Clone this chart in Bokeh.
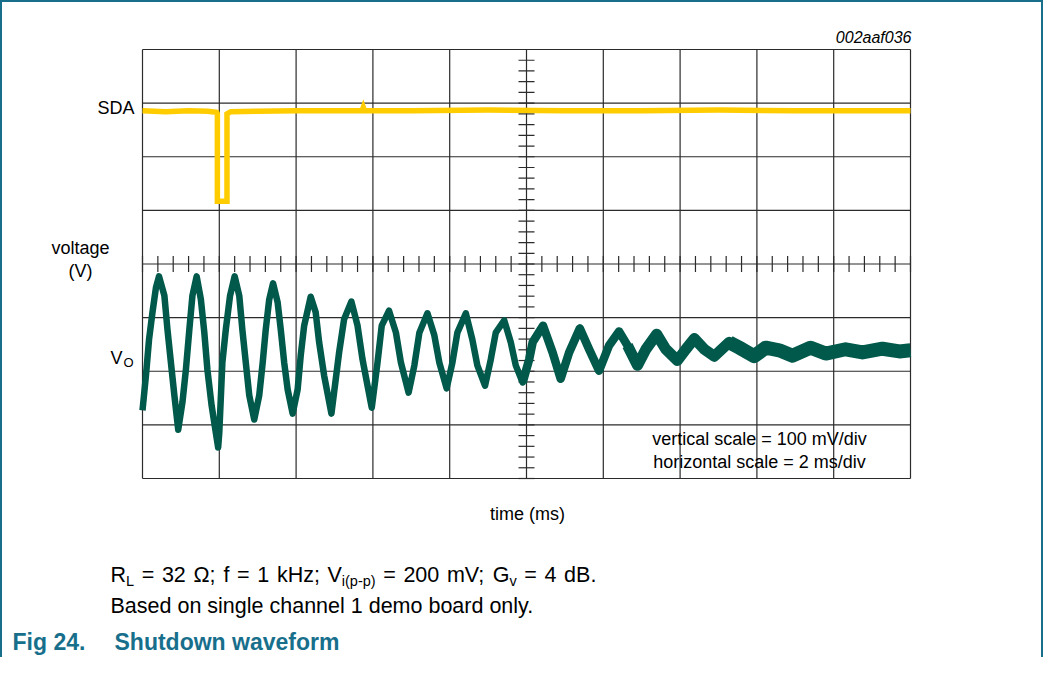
import numpy as np
from bokeh.plotting import figure
from bokeh.models import Label, Range1d
from bokeh.embed import file_html
from bokeh.resources import INLINE

# ---------------- data ----------------
# time in ms (2 ms/div), value in screen divisions (0 = centre line)
vo_t = [0.00, 0.09, 0.17, 0.26, 0.35, 0.43, 0.57, 0.65, 0.74, 0.83, 0.93, 1.04, 1.13, 1.22, 1.30,
        1.41, 1.52, 1.61, 1.69, 1.80, 1.93, 1.97, 2.00, 2.08, 2.17, 2.28, 2.40, 2.52, 2.60, 2.69,
        2.78, 2.91, 3.04, 3.13, 3.21, 3.30, 3.40, 3.52, 3.60, 3.69, 3.78, 3.91, 4.04, 4.12, 4.21,
        4.38, 4.51, 4.60, 4.73, 4.92, 5.12, 5.25, 5.44, 5.60, 5.73, 5.86, 5.97, 6.12, 6.23, 6.42,
        6.60, 6.73, 6.93, 7.08, 7.21, 7.42, 7.60, 7.73, 7.92, 8.07, 8.20, 8.42, 8.59, 8.72, 8.92,
        9.07, 9.20, 9.42, 9.59, 9.72, 9.90, 10.07, 10.16, 10.43, 10.68, 10.89, 11.11, 11.39, 11.63,
        11.89, 12.15, 12.41, 12.63, 12.89, 13.11, 13.39, 13.63, 13.93, 14.15, 14.37, 14.63, 14.89,
        15.28, 15.54, 15.93, 16.23, 16.58, 16.93, 17.40, 17.79, 18.31, 18.75, 19.27, 19.71, 20.00]
vo_v = [-2.73, -2.08, -1.41, -0.90, -0.44, -0.23, -0.59, -1.22, -1.84, -2.45, -3.09, -2.58, -1.97,
        -1.22, -0.59, -0.23, -0.66, -1.28, -1.97, -2.64, -3.24, -3.42, -3.14, -1.84, -1.22, -0.59,
        -0.23, -0.59, -1.22, -1.84, -2.45, -2.90, -2.45, -1.84, -1.22, -0.66, -0.36, -0.72, -1.22,
        -1.84, -2.34, -2.79, -2.34, -1.71, -1.15, -0.61, -0.90, -1.46, -2.08, -2.79, -1.65, -1.03,
        -0.70, -1.15, -1.78, -2.27, -2.68, -1.84, -1.15, -0.87, -1.28, -1.84, -2.40, -1.89, -1.28,
        -0.92, -1.33, -1.84, -2.32, -1.84, -1.28, -0.92, -1.41, -1.89, -2.27, -1.78, -1.28, -1.05,
        -1.46, -1.89, -2.21, -1.78, -1.46, -1.15, -1.65, -2.14, -1.65, -1.20, -1.59, -1.99, -1.52,
        -1.26, -1.52, -1.89, -1.59, -1.31, -1.59, -1.80, -1.59, -1.39, -1.59, -1.72, -1.46, -1.56,
        -1.72, -1.56, -1.61, -1.71, -1.56, -1.67, -1.59, -1.65, -1.58, -1.63, -1.61]

sda_t = [0.0, 0.6, 1.2, 1.7, 1.93, 1.95, 1.95, 2.20, 2.20, 2.30, 3.0, 4.0, 5.72, 5.75, 5.78,
         7.0, 9.0, 11.0, 13.0, 15.0, 17.0, 19.0, 20.0]
sda_v = [2.86, 2.84, 2.86, 2.85, 2.83, 2.80, 1.17, 1.17, 2.80, 2.84, 2.85, 2.86, 2.86, 2.92, 2.86,
         2.86, 2.87, 2.86, 2.86, 2.87, 2.86, 2.86, 2.86]

x_major = [0, 2, 4, 6, 8, 10, 12, 14, 16, 18, 20]      # 2 ms/div
y_major = [-4, -3, -2, -1, 0, 1, 2, 3, 4]              # 100 mV/div

# ---------------- layout ----------------
X0, X1, Y0, Y1 = x_major[0], x_major[-1], y_major[0], y_major[-1]
FL, FR, FT, FB = 150, 918, 57, 486          # scope screen edges in page pixels
PXMS = (FR - FL) / (X1 - X0)
PXDIV = (FB - FT) / (Y1 - Y0)
DY = -7                                      # label baseline correction


def X(px):
    return X0 + (px - FL) / PXMS


def Y(py):
    return Y1 - (py - FT) / PXDIV


TEAL = "#176f8c"
GRID = "#2b2b2b"
SDA_C = "#ffcc00"
VO_C = "#00594a"
FONT = "Liberation Sans"
BORDER = 2
OX = OY = 8 + BORDER            # canvas origin in page pixels
W, H = 1043, 657

p = figure(width=W, height=H,
           x_range=Range1d(X(OX), X(OX + W)), y_range=Range1d(Y(OY + H), Y(OY)),
           x_axis_type=None, y_axis_type=None, toolbar_location=None,
           output_backend="svg", min_border=0)
p.min_border_left = p.min_border_right = p.min_border_top = p.min_border_bottom = 0
p.background_fill_color = "white"
p.border_fill_color = "white"
p.outline_line_color = None
p.styles = {"border-top": f"{BORDER}px solid {TEAL}",
            "border-left": f"{BORDER}px solid {TEAL}",
            "border-right": f"{BORDER}px solid {TEAL}"}

# scope graticule
p.segment(x0=x_major, x1=x_major, y0=Y0, y1=Y1, line_color=GRID, line_width=1.2)
p.segment(x0=X0, x1=X1, y0=y_major, y1=y_major, line_color=GRID, line_width=1.2)
# centre-line minor ticks (5 per division)
mx = np.arange(X0, X1 + 1e-9, (x_major[1] - x_major[0]) / 5)
my = np.arange(Y0, Y1 + 1e-9, (y_major[1] - y_major[0]) / 5)
xc = (X0 + X1) / 2
yc = (Y0 + Y1) / 2
p.segment(x0=mx, x1=mx, y0=yc - 8 / PXDIV, y1=yc + 8 / PXDIV, line_color=GRID, line_width=1.2)
p.segment(x0=xc - 8 / PXMS, x1=xc + 8 / PXMS, y0=my, y1=my, line_color=GRID, line_width=1.2)

# traces
p.line(sda_t, sda_v, line_color=SDA_C, line_width=5.5, line_join="miter")
t = np.array(vo_t)
v = np.array(vo_v)
for lo, hi, w in [(0, 10.07, 6.5), (9.90, 12.89, 8.5), (12.63, 15.54, 11), (15.28, 20.0, 14)]:
    m = (t >= lo) & (t <= hi)
    p.line(t[m], v[m], line_color=VO_C, line_width=w, line_join="round")


def lab(text, px, py, size, align="left", style="normal", color="#000000"):
    p.add_layout(Label(x=X(px), y=Y(py + DY), text=text, text_font=FONT,
                       text_font_size=f"{size}px", text_align=align,
                       text_baseline="alphabetic", text_font_style=style,
                       text_color=color))


lab("002aaf036", 919, 52, 16, align="right", style="italic")
lab("SDA", 142, 122, 18, align="right")
lab("voltage", 88, 262, 18, align="center")
lab("(V)", 88, 285, 18, align="center")
lab("V", 118, 372, 18)
lab("O", 131, 377, 13)
lab("time (ms)", 535, 528, 18, align="center")
lab("vertical scale = 100 mV/div", 767, 453, 18, align="center")
lab("horizontal scale = 2 ms/div", 767, 476, 18, align="center")

# caption line 1 (subscripts smaller and lower)
B1, S1 = 589, 595
cap1 = [("R", 118, B1, 21.5), ("L", 133.5, S1, 14.5), ("=", 149.2, B1, 21.5),
        ("32", 169.4, B1, 21.5), ("\u03a9;", 200.9, B1, 21.5), ("f", 231, B1, 21.5),
        ("=", 244.6, B1, 21.5), ("1", 264.8, B1, 21.5), ("kHz;", 284.4, B1, 21.5),
        ("V", 335, B1, 21.5), ("i(p-p)", 349.3, S1, 14.5), ("=", 390.7, B1, 21.5),
        ("200", 410.9, B1, 21.5), ("mV;", 454.4, B1, 21.5), ("G", 500.2, B1, 21.5),
        ("v", 516.9, S1, 14.5), ("=", 531.8, B1, 21.5), ("4", 552, B1, 21.5),
        ("dB.", 571.6, B1, 21.5)]
for txt, px, py, sz in cap1:
    lab(txt, px, py, sz)
lab("Based on single channel 1 demo board only.", 118, 620, 21.5)
lab("Fig 24.", 20, 656, 23, style="bold", color=TEAL)
lab("Shutdown waveform", 122, 656, 23, style="bold", color=TEAL)

open("out.html", "w").write(file_html(p, INLINE))
